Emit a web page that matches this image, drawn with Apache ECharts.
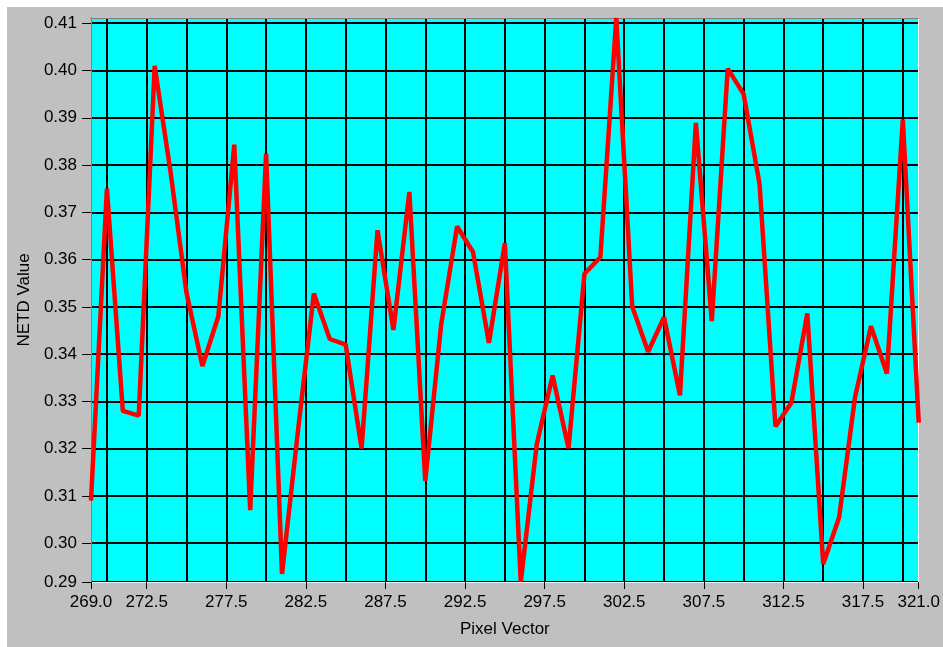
<!DOCTYPE html>
<html>
<head>
<meta charset="utf-8">
<script src="https://cdn.jsdelivr.net/npm/echarts@6/dist/echarts.min.js"></script>
<style>
  html, body { margin: 0; padding: 0; background: #ffffff; }
  #chart { width: 943px; height: 647px; }
</style>
</head>
<body>
<div id="chart"></div>
<script>
// Pixel index (x) and NETD values
const pixelVector = [269, 270, 271, 272, 273, 274, 275, 276, 277, 278, 279, 280, 281, 282, 283, 284, 285, 286,
  287, 288, 289, 290, 291, 292, 293, 294, 295, 296, 297, 298, 299, 300, 301, 302, 303, 304,
  305, 306, 307, 308, 309, 310, 311, 312, 313, 314, 315, 316, 317, 318, 319, 320, 321];
const netdValue = [0.309, 0.375, 0.328, 0.327, 0.401, 0.3785, 0.353, 0.3375, 0.348, 0.3843, 0.307, 0.3824,
  0.2935, 0.3237, 0.3528, 0.3432, 0.342, 0.320,
  0.3662, 0.3451, 0.3743, 0.3132, 0.3463, 0.367, 0.3616, 0.3424, 0.3635, 0.2918, 0.3209, 0.3355, 0.3201, 0.357,
  0.3605, 0.4111, 0.3501, 0.3405,
  0.3478, 0.3313, 0.3889, 0.347, 0.4004, 0.395, 0.376, 0.3247, 0.3297, 0.3486, 0.2956, 0.3055, 0.3309, 0.3459,
  0.3359, 0.3896, 0.3255];

// Tick labels / grid positions
const xLabelValues = [269.0, 272.5, 277.5, 282.5, 287.5, 292.5, 297.5, 302.5, 307.5, 312.5, 317.5, 321.0];
const xGridValues = [270, 272.5, 275, 277.5, 280, 282.5, 285, 287.5, 290, 292.5, 295, 297.5, 300, 302.5,
  305, 307.5, 310, 312.5, 315, 317.5, 320];
const yTickValues = [0.30, 0.31, 0.32, 0.33, 0.34, 0.35, 0.36, 0.37, 0.38, 0.39, 0.40, 0.41];

const xMin = pixelVector[0];
const xMax = pixelVector[pixelVector.length - 1];
const yMin = Math.min.apply(null, netdValue);
const yMax = Math.max.apply(null, netdValue);

const seriesData = pixelVector.map((x, i) => [x, netdValue[i]]);

const FONT = "'Liberation Sans', Arial, sans-serif";
const labelStyle = { color: '#000000', fontSize: 17, fontFamily: FONT };

const chart = echarts.init(document.getElementById('chart'), null, { renderer: 'canvas' });
chart.setOption({
  animation: false,
  backgroundColor: '#ffffff',
  graphic: [{
    type: 'rect', z: -10, silent: true,
    shape: { x: 7, y: 7, width: 936, height: 640 },
    style: { fill: '#c0c0c0' }
  }],
  grid: { left: 91, right: 21, top: 18, bottom: 65, show: true, backgroundColor: '#00ffff', borderWidth: 0 },
  xAxis: [
    {
      type: 'value', min: xMin, max: xMax, position: 'bottom',
      axisLine: { show: false },
      axisTick: { show: false, customValues: xGridValues },
      axisLabel: { show: false },
      splitLine: { show: true, lineStyle: { color: '#000000', width: 2 } }
    },
    {
      type: 'value', min: xMin, max: xMax, position: 'bottom',
      name: 'Pixel Vector', nameLocation: 'middle', nameGap: 39,
      nameTextStyle: labelStyle,
      axisLine: { show: true, lineStyle: { color: '#ffffff', width: 1 } },
      axisTick: { show: true, length: 7, customValues: xLabelValues, lineStyle: { color: '#000000' } },
      axisLabel: Object.assign({ show: true, margin: 12, customValues: xLabelValues,
        formatter: v => Number(v).toFixed(1) }, labelStyle),
      splitLine: { show: false }
    },
    {
      type: 'value', min: xMin, max: xMax, position: 'top',
      axisLine: { show: true, lineStyle: { color: '#808080', width: 1 } },
      axisTick: { show: false }, axisLabel: { show: false }, splitLine: { show: false }
    }
  ],
  yAxis: [
    {
      type: 'value', min: yMin, max: yMax, position: 'left',
      name: 'NETD Value', nameLocation: 'middle', nameGap: 49,
      nameTextStyle: labelStyle,
      axisLine: { show: true, lineStyle: { color: '#808080', width: 1 } },
      axisTick: { show: true, length: 9, customValues: [yMin].concat(yTickValues), lineStyle: { color: '#000000' } },
      axisLabel: Object.assign({ show: true, margin: 14, customValues: [yMin].concat(yTickValues),
        formatter: v => Number(v).toFixed(2) }, labelStyle),
      splitLine: { show: true, lineStyle: { color: '#000000', width: 2 } }
    },
    {
      type: 'value', min: yMin, max: yMax, position: 'right',
      axisLine: { show: true, lineStyle: { color: '#ffffff', width: 1 } },
      axisTick: { show: false }, axisLabel: { show: false }, splitLine: { show: false }
    }
  ],
  series: [{
    type: 'line',
    xAxisIndex: 0, yAxisIndex: 0,
    data: seriesData,
    showSymbol: false,
    symbol: 'none',
    clip: true,
    lineStyle: { color: '#ff0000', width: 4.5 },
    z: 5
  }]
});
</script>
</body>
</html>
